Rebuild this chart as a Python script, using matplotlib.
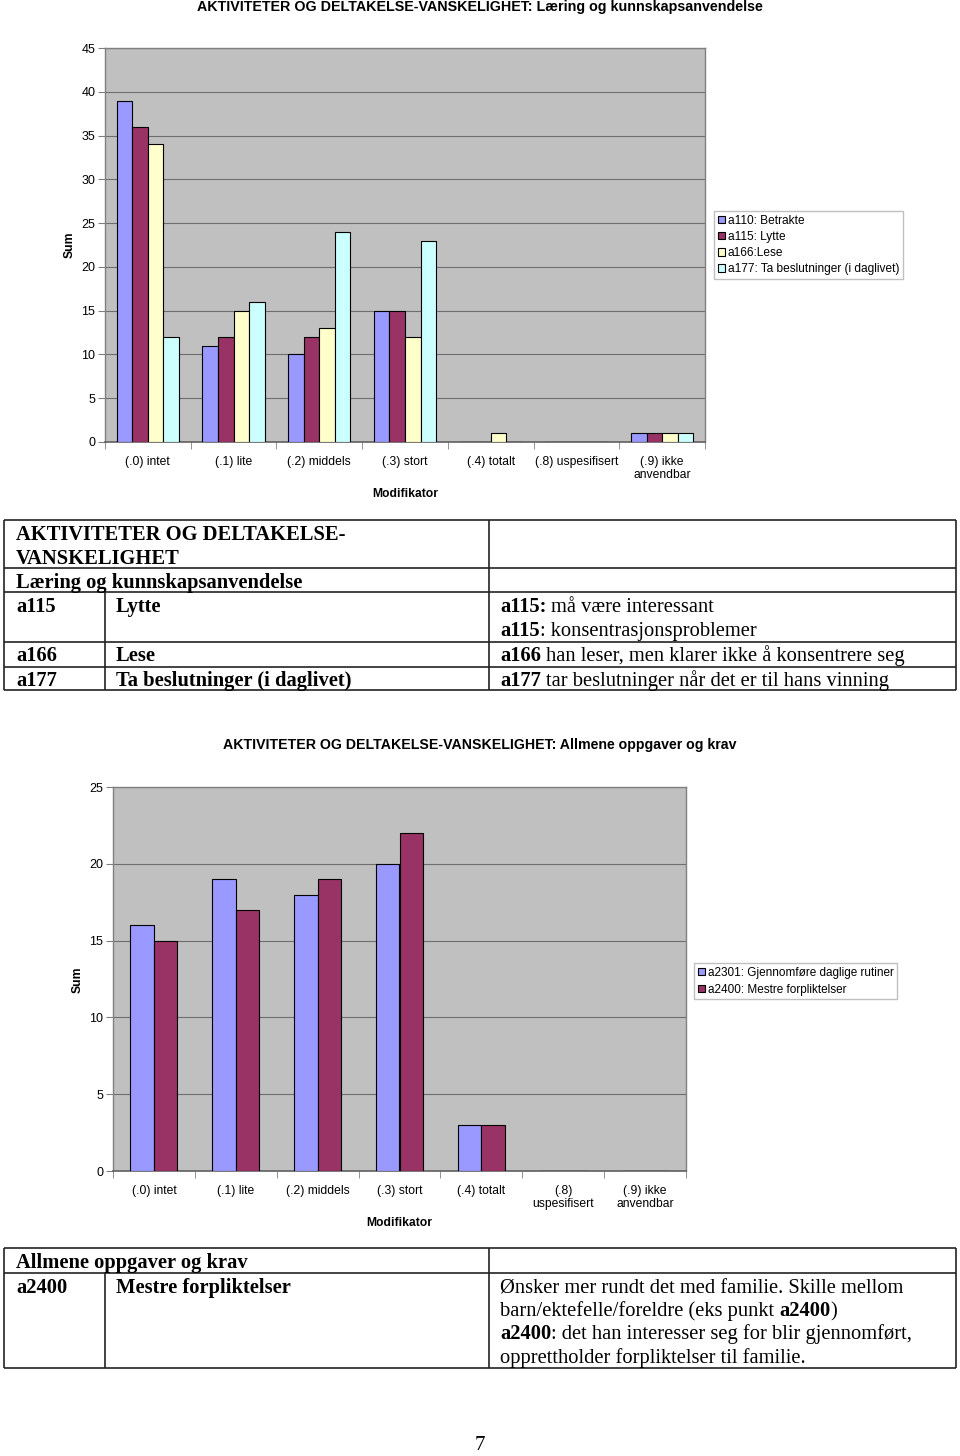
import numpy as np
import matplotlib
matplotlib.use('Agg')
import matplotlib.pyplot as plt

W, H = 960, 1456

# ---- data ----
cats1 = ['(.0) intet', '(.1) lite', '(.2) middels', '(.3) stort', '(.4) totalt',
         '(.8) uspesifisert', '(.9) ikke\nanvendbar']
a110 = [39, 11, 10, 15, 0, 0, 1]
a115 = [36, 12, 12, 15, 0, 0, 1]
a166 = [34, 15, 13, 12, 1, 0, 1]
a177 = [12, 16, 24, 23, 0, 0, 1]
labels1 = ['a110: Betrakte', 'a115: Lytte', 'a166:Lese', 'a177: Ta beslutninger (i daglivet)']

cats2 = ['(.0) intet', '(.1) lite', '(.2) middels', '(.3) stort', '(.4) totalt',
         '(.8)\nuspesifisert', '(.9) ikke\nanvendbar']
a2301 = [16, 19, 18, 20, 3, 0, 0]
a2400 = [15, 17, 19, 22, 3, 0, 0]
labels2 = ['a2301: Gjennomføre daglige rutiner', 'a2400: Mestre forpliktelser']

colors = ['#9999FF', '#993366', '#FFFFCC', '#CCFFFF']

sans = 'Liberation Sans'
serif = 'Liberation Serif'

fig = plt.figure(figsize=(W / 100, H / 100), dpi=100)
fig.patch.set_facecolor('white')


def px_axes(x0, y0, x1, y1):
    return fig.add_axes([x0 / W, 1 - y1 / H, (x1 - x0) / W, (y1 - y0) / H])


def bar_chart(ax, cats, series, labels, bw, ymax, ystep):
    n = len(series)
    x = np.arange(len(cats))
    for i, (vals, lab) in enumerate(zip(series, labels)):
        off = (i - (n - 1) / 2) * bw
        ax.bar(x + off, vals, bw, color=colors[i], edgecolor='black', linewidth=0.8,
               label=lab, zorder=3)
    ax.set_facecolor('#C0C0C0')
    ax.set_xlim(-0.5, len(cats) - 0.5)
    ax.set_ylim(0, ymax)
    ax.set_yticks(np.arange(0, ymax + 1, ystep))
    ax.yaxis.grid(True, color='#6e6e6e', lw=0.8, zorder=1)
    ax.set_xticks(x)
    ax.set_xticklabels(cats, fontsize=8.7, family=sans, linespacing=1.1)
    ax.set_xticks(np.arange(len(cats) + 1) - 0.5, minor=True)
    ax.tick_params(axis='x', which='major', length=0, pad=10)
    ax.tick_params(axis='x', which='minor', length=5, color='#808080', direction='out')
    ax.tick_params(axis='y', length=5, color='#808080', labelsize=9, pad=2)
    for t in ax.get_yticklabels():
        t.set_family(sans)
    for s in ['top', 'right', 'left']:
        ax.spines[s].set_color('#808080')
        ax.spines[s].set_linewidth(1.0)
    ax.spines['bottom'].set_color('#606060')
    ax.spines['bottom'].set_linewidth(1.2)


def legend_at(ax, x, y, size, spacing):
    handles, labs = ax.get_legend_handles_labels()
    fig.legend(handles, labs, loc='upper left', bbox_to_anchor=(x / W, 1 - y / H),
               prop={'family': sans, 'size': size}, frameon=True, fancybox=False,
               edgecolor='#c0c0c0', framealpha=1, handlelength=0.6, handleheight=0.6,
               handletextpad=0.25, labelspacing=spacing, borderpad=0.3, borderaxespad=0)


# ---- chart 1 ----
ax1 = px_axes(105, 48, 705, 442)
bar_chart(ax1, cats1, [a110, a115, a166, a177], labels1, 0.182, 45, 5)
legend_at(ax1, 714, 211, 8.6, 0.35)
fig.text(480 / W, 1 - 7 / H,
         'AKTIVITETER OG DELTAKELSE-VANSKELIGHET: Læring og kunnskapsanvendelse',
         ha='center', va='center', fontsize=10.3, fontweight='bold', family=sans)
fig.text(70 / W, 1 - 245 / H, 'Sum', rotation=90, ha='center', va='center',
         fontsize=8.7, fontweight='bold', family=sans)
fig.text(405 / W, 1 - 494 / H, 'Modifikator', ha='center', va='center',
         fontsize=8.7, fontweight='bold', family=sans)

# ---- chart 2 ----
ax2 = px_axes(113, 787, 686, 1171)
bar_chart(ax2, cats2, [a2301, a2400], labels2, 0.287, 25, 5)
legend_at(ax2, 694, 963, 8.5, 0.45)
fig.text(480 / W, 1 - 745 / H,
         'AKTIVITETER OG DELTAKELSE-VANSKELIGHET: Allmene oppgaver og krav',
         ha='center', va='center', fontsize=10.2, fontweight='bold', family=sans)
fig.text(78 / W, 1 - 980 / H, 'Sum', rotation=90, ha='center', va='center',
         fontsize=8.7, fontweight='bold', family=sans)
fig.text(399 / W, 1 - 1223 / H, 'Modifikator', ha='center', va='center',
         fontsize=8.7, fontweight='bold', family=sans)

# ---- tables (pixel coordinates) ----
tab = fig.add_axes([0, 0, 1, 1], facecolor='none')
tab.set_xlim(0, W)
tab.set_ylim(H, 0)
tab.axis('off')

FS = 14.8


def hline(y, x0=4, x1=956):
    tab.plot([x0, x1], [y, y], color='#222222', lw=1.2, solid_capstyle='butt')


def vline(x, y0, y1):
    tab.plot([x, x], [y0, y1], color='#222222', lw=1.2, solid_capstyle='butt')


def txt(x, y, s, bold=False):
    return tab.text(x, y, s, ha='left', va='baseline', fontsize=FS, family=serif,
                    fontweight='bold' if bold else 'normal')


def mixed(x, y, parts):
    prev = None
    for s, b in parts:
        if prev is None:
            prev = txt(x, y, s, b)
        else:
            gap = 3.5 if s.startswith(' ') else 0
            prev = tab.annotate(s.lstrip(' '), xy=(1, 0), xycoords=prev,
                                xytext=(gap, 0), textcoords='offset points',
                                ha='left', va='bottom', fontsize=FS, family=serif,
                                fontweight='bold' if b else 'normal')


# table 1
for y in [520, 568, 592, 642, 667, 690]:
    hline(y)
vline(4, 520, 690)
vline(956, 520, 690)
vline(489, 520, 690)
vline(105, 592, 690)
txt(16, 540, 'AKTIVITETER OG DELTAKELSE-', True)
txt(16, 564, 'VANSKELIGHET', True)
txt(16, 588, 'Læring og kunnskapsanvendelse', True)
txt(16, 612, 'a115', True)
txt(116, 612, 'Lytte', True)
mixed(500, 612, [('a115:', True), (' må være interessant', False)])
mixed(500, 636, [('a115', True), (': konsentrasjonsproblemer', False)])
txt(16, 661, 'a166', True)
txt(116, 661, 'Lese', True)
mixed(500, 661, [('a166', True), (' han leser, men klarer ikke å konsentrere seg', False)])
txt(16, 686, 'a177', True)
txt(116, 686, 'Ta beslutninger (i daglivet)', True)
mixed(500, 686, [('a177', True), (' tar beslutninger når det er til hans vinning', False)])

# table 2
for y in [1248, 1273, 1368]:
    hline(y)
vline(4, 1248, 1368)
vline(956, 1248, 1368)
vline(489, 1248, 1368)
vline(105, 1273, 1368)
txt(16, 1268, 'Allmene oppgaver og krav', True)
txt(16, 1293, 'a2400', True)
txt(116, 1293, 'Mestre forpliktelser', True)
txt(500, 1293, 'Ønsker mer rundt det med familie. Skille mellom')
mixed(500, 1316, [('barn/ektefelle/foreldre (eks punkt', False), (' a2400', True), (')', False)])
mixed(500, 1339, [('a2400', True), (': det han interesser seg for blir gjennomført,', False)])
txt(500, 1363, 'opprettholder forpliktelser til familie.')

# page number
tab.text(480, 1445, '7', ha='center', va='center', fontsize=15, family=serif)

fig.savefig('out.png', dpi=100)
